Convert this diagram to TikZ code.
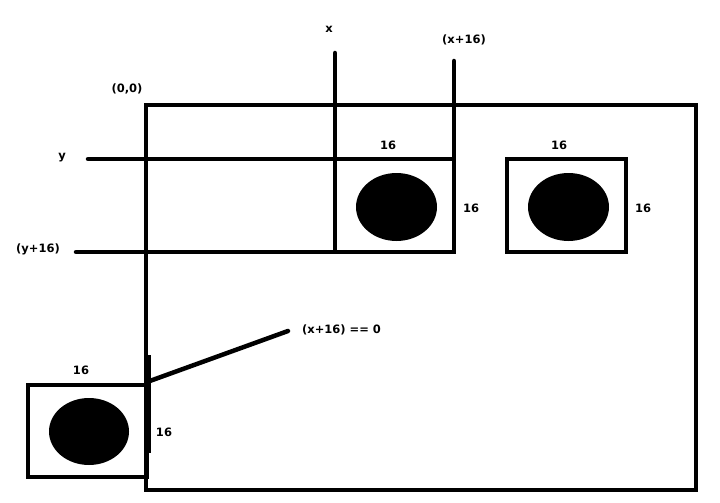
\documentclass[tikz,border=0pt]{standalone}
\usepackage{fontspec}
\setmainfont{DejaVu Sans}
\begin{document}
\begin{tikzpicture}[x=1pt,y=-1pt,
  thick line/.style={line width=4.5pt},
  boxnode/.style={draw,thick line,inner sep=0pt,outer sep=0pt,minimum width=119pt,minimum height=93pt},
  bignode/.style={draw,thick line,inner sep=0pt,outer sep=0pt,minimum width=550pt,minimum height=385pt},
  lbl/.style={font=\fontsize{11.5}{13}\selectfont\bfseries,inner sep=0pt}
]
\useasboundingbox (0,0) rectangle (720,503);
% main frame
\node[bignode] (big) at (421,297.5) {};
% boxes
\node[boxnode] (b1) at (394.5,205.5) {};
\node[boxnode] (b2) at (566.5,205.5) {};
\node[boxnode,minimum height=92pt] (b3) at (87.5,431) {};
% blobs
\fill (396.5,207) ellipse [x radius=40.5, y radius=34];
\fill (568.5,207) ellipse [x radius=40.5, y radius=34];
\fill (89,431.5) ellipse [x radius=40, y radius=33.5];
% guide lines
\coordinate (xtop) at (335,53);
\coordinate (x16top) at (454,61);
\coordinate (yleft) at (88,159);
\coordinate (y16left) at (76,252);
\coordinate (diagend) at (288,331);
\coordinate (diagstart) at (147,382);
\draw[thick line,line cap=round] (xtop) -- (b1.north west);
\draw[thick line,line cap=round] (x16top) -- (b1.north east);
\draw[thick line,line cap=round] (yleft) -- (b1.north west);
\draw[thick line,line cap=round] (y16left) -- (b1.south west);
\draw[thick line,line cap=round] (diagstart) -- (diagend);
\draw[thick line] (148.5,355) -- (148.5,453);
% labels
\node[lbl] (lx) at (329,29) {x};
\node[lbl] (lx16) at (464,40) {(x+16)};
\node[lbl] (l00) at (127,89) {(0,0)};
\node[lbl] (ly) at (62,158) {y};
\node[lbl] (ly16) at (38,249) {(y+16)};
\node[lbl] (t1) at (388,145) {16};
\node[lbl] (r1) at (471,208) {16};
\node[lbl] (t2) at (559,145) {16};
\node[lbl] (r2) at (643,208) {16};
\node[lbl] (t3) at (81,370) {16};
\node[lbl] (r3) at (164,432) {16};
\node[lbl] (eq) at (341.5,330) {(x+16) == 0};
\end{tikzpicture}
\end{document}
